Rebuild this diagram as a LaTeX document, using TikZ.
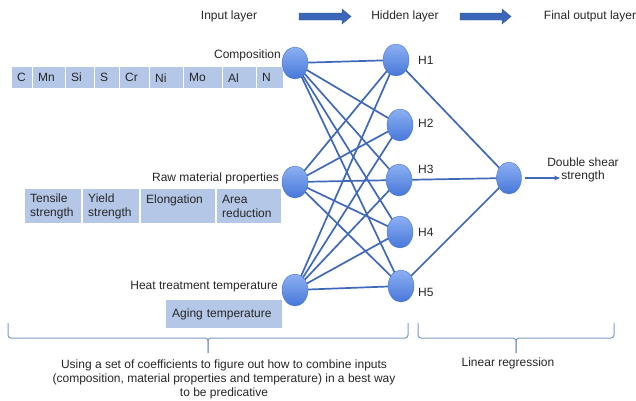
\documentclass[tikz,border=0pt]{standalone}
\usepackage{fontspec}
\setmainfont{Liberation Sans}
\usetikzlibrary{shapes.geometric,arrows.meta}
\pgfdeclarelayer{bg}
\pgfsetlayers{bg,main}
\definecolor{lineblue}{HTML}{3F68B8}
\definecolor{cellblue}{HTML}{B4C7E7}
\definecolor{bracecol}{HTML}{7D98C9}
\definecolor{txt}{HTML}{262626}
\definecolor{nodetop}{HTML}{8DB0F2}
\definecolor{nodebot}{HTML}{4677D9}
\definecolor{nodeedge}{HTML}{4C78CF}
\definecolor{blockfill}{HTML}{3B66BA}
\definecolor{blockedge}{HTML}{2F528F}
\begin{document}
\begin{tikzpicture}[x=1pt,y=-1pt,
  lbl/.style={font=\fontsize{12}{13.5}\selectfont, text=txt, inner sep=0pt},
  neuron/.style={ellipse, minimum width=26pt, minimum height=32pt, inner sep=0pt,
    draw=nodeedge, line width=0.4pt, top color=nodetop, bottom color=nodebot},
  cell/.style={lbl, fill=cellblue, anchor=north west, inner xsep=5pt, align=left},
  conn/.style={draw=lineblue, line width=1.7pt},
  brace/.style={draw=bracecol, line width=1pt, rounded corners=3pt},
  blockarrow/.style={fill=blockfill, draw=blockedge, line width=0.4pt}]
\useasboundingbox (0,0) rectangle (636,400);

% header
\node[lbl] (tin) at (229,16) {Input layer};
\node[lbl] (thid) at (405,16) {Hidden layer};
\node[lbl] (tout) at (590,16) {Final output layer};
\filldraw[blockarrow] (299,13) -- (342,13) -- (342,9) -- (351,16.5) -- (342,24) -- (342,20) -- (299,20) -- cycle;
\filldraw[blockarrow] (460,13) -- (502,13) -- (502,9) -- (511,16.5) -- (502,24) -- (502,20) -- (460,20) -- cycle;

% input nodes
\node[neuron] (c) at (295,63) {};
\node[neuron] (r) at (295,182) {};
\node[neuron] (h) at (295,290) {};
% hidden nodes
\node[neuron] (H1) at (396,60) {};
\node[neuron] (H2) at (400,125) {};
\node[neuron] (H3) at (399,180) {};
\node[neuron] (H4) at (400,232) {};
\node[neuron] (H5) at (401,286) {};
% output node
\node[neuron, minimum width=25pt] (o) at (509,178) {};

\begin{pgfonlayer}{bg}
\foreach \i in {c,r,h}{
  \foreach \j in {1,...,5}{
    \draw[conn] (\i.center) -- (H\j.center);
  }
}
\draw[conn] (H1.center) -- (o.center);
\draw[conn] (H3.center) -- (o.center);
\draw[conn] (H5.center) -- (o.center);
\end{pgfonlayer}

\node[lbl, anchor=west] (l1) at (418,60) {H1};
\node[lbl, anchor=west] (l2) at (418,123) {H2};
\node[lbl, anchor=west] (l3) at (418,169) {H3};
\node[lbl, anchor=west] (l4) at (418,232) {H4};
\node[lbl, anchor=west] (l5) at (418,292) {H5};

% output label
\coordinate (oarr) at (560,178);
\draw[draw=lineblue, line width=1.3pt, -{Stealth[length=6pt,width=5pt]}] (o.east) ++(3,0) -- (oarr);
\node[lbl, align=center] (dss) at (583,170) {Double shear\\strength};

% input labels
\node[lbl, anchor=east] (lc) at (281,55) {Composition};
\node[lbl, anchor=east] (lr) at (279,178) {Raw material properties};
\node[lbl, anchor=east] (lh) at (278,287) {Heat treatment temperature};

% composition cells
\node[cell, text width=10pt, minimum height=21pt] (e1) at (12,67) {C};
\node[cell, text width=22pt, minimum height=21pt] (e2) at (33,67) {Mn};
\node[cell, text width=18pt, minimum height=21pt] (e3) at (66,67) {Si};
\node[cell, text width=14pt, minimum height=21pt] (e4) at (95,67) {S};
\node[cell, text width=19pt, minimum height=21pt] (e5) at (120,67) {Cr};
\node[cell, text width=23pt, minimum height=21pt] (e6) at (150,67) {Ni};
\node[cell, text width=28pt, minimum height=21pt] (e7) at (184,67) {Mo};
\node[cell, text width=23pt, minimum height=21pt] (e8) at (223,67) {Al};
\node[cell, text width=16pt, minimum height=21pt] (e9) at (257,67) {N};

% property cells
\node[cell, text width=46pt, minimum height=34pt] (p1) at (25,189) {Tensile\\strength};
\node[cell, text width=46pt, minimum height=34pt] (p2) at (83,189) {Yield\\strength};
\node[cell, text width=64pt, minimum height=34pt] (p3) at (141,189) {Elongation\\\mbox{}};
\node[cell, text width=54pt, minimum height=34pt] (p4) at (217,189) {Area\\reduction};

% aging cell
\node[cell, text width=104pt, minimum height=28pt, inner xsep=6pt] (ag) at (166,300) {Aging temperature};

% braces
\coordinate (b1a) at (8,323);
\coordinate (b1m) at (208,353);
\coordinate (b1b) at (408,323);
\draw[brace] (b1a) -- (8,338) -- (208,338) -- (b1m);
\draw[brace] (b1m) -- (208,338) -- (408,338) -- (b1b);
\coordinate (b2a) at (418,323);
\coordinate (b2m) at (516,353);
\coordinate (b2b) at (614,323);
\draw[brace] (b2a) -- (418,338) -- (516,338) -- (b2m);
\draw[brace] (b2m) -- (516,338) -- (614,338) -- (b2b);

\node[lbl, align=center, font=\fontsize{12}{14}\selectfont] (btxt) at (224,379)
  {Using a set of coefficients to figure out how to combine inputs\\(composition, material properties and temperature) in a best way\\to be predicative};
\node[lbl] (lin) at (508,363) {Linear regression};
\end{tikzpicture}
\end{document}
